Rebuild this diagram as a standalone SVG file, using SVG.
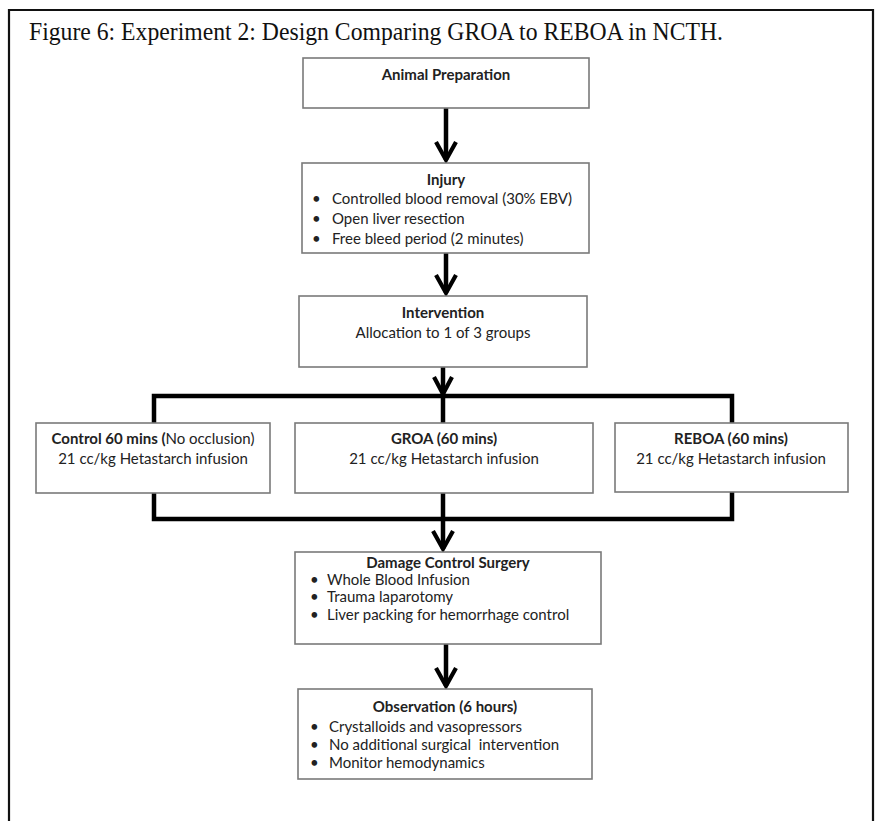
<svg xmlns="http://www.w3.org/2000/svg" width="878" height="821" viewBox="0 0 878 821">
<style>
.box{fill:#fff;stroke:#7a7a7a;stroke-width:1.6}
.t{font-family:Lato,"Open Sans","Liberation Sans",sans-serif;font-size:15px;fill:#222}
.b{font-weight:bold}
.c{text-anchor:middle}
.ln{fill:none;stroke:#000;stroke-width:4.5;stroke-linejoin:miter;stroke-linecap:butt}
.ah{fill:none;stroke:#000;stroke-width:4.2;stroke-linejoin:miter}
</style>
<rect x="0" y="0" width="878" height="821" fill="#fff"/>
<path d="M9 830 V10 H873 V830" fill="none" stroke="#111" stroke-width="2.2"/>
<text x="29" y="40" font-family="'Liberation Serif','Times New Roman',serif" font-size="25" fill="#111" textLength="694" lengthAdjust="spacingAndGlyphs">Figure 6: Experiment 2: Design Comparing GROA to REBOA in NCTH.</text>

<g id="connectors">
  <path class="ln" d="M446 108 V160"/>
  <path class="ah" d="M436 142 L446 160 L456 142"/>
  <path class="ln" d="M446 253 V293"/>
  <path class="ah" d="M436 275 L446 293 L456 275"/>
  <path class="ln" d="M443 367 V394"/>
  <path class="ah" d="M434 377 L443 394 L452 377"/>
  <path class="ln" d="M154 423 V396 H732 V423"/>
  <path class="ln" d="M443 396 V423"/>
  <path class="ln" d="M154 493 V519 H732 V492"/>
  <path class="ln" d="M443 493 V549"/>
  <path class="ah" d="M433 531 L443 549 L453 531"/>
  <path class="ln" d="M446 644 V686"/>
  <path class="ah" d="M436 668 L446 686 L456 668"/>
</g>

<g id="animal">
  <rect class="box" x="303" y="58" width="286" height="50"/>
  <text class="t b c" x="446" y="80">Animal Preparation</text>
</g>

<g id="injury">
  <rect class="box" x="302" y="163" width="287" height="90"/>
  <text class="t b c" x="446" y="185">Injury</text>
  <text class="t" x="312" y="204">•</text><text class="t" x="332" y="204">Controlled blood removal (30% EBV)</text>
  <text class="t" x="312" y="224">•</text><text class="t" x="332" y="224">Open liver resection</text>
  <text class="t" x="312" y="244">•</text><text class="t" x="332" y="244">Free bleed period (2 minutes)</text>
</g>

<g id="intervention">
  <rect class="box" x="299" y="296" width="288" height="71"/>
  <text class="t b c" x="443" y="318">Intervention</text>
  <text class="t c" x="443" y="338">Allocation to 1 of 3 groups</text>
</g>

<g id="control">
  <rect class="box" x="36" y="423" width="234" height="70"/>
  <text class="t c" x="153" y="444"><tspan class="b">Control 60 mins (</tspan>No occlusion)</text>
  <text class="t c" x="153" y="464">21 cc/kg Hetastarch infusion</text>
</g>

<g id="groa">
  <rect class="box" x="295" y="423" width="298" height="70"/>
  <text class="t b c" x="444" y="444">GROA (60 mins)</text>
  <text class="t c" x="444" y="464">21 cc/kg Hetastarch infusion</text>
</g>

<g id="reboa">
  <rect class="box" x="615" y="423" width="233" height="69"/>
  <text class="t b c" x="731" y="444">REBOA (60 mins)</text>
  <text class="t c" x="731" y="464">21 cc/kg Hetastarch infusion</text>
</g>

<g id="damage">
  <rect class="box" x="295" y="552" width="306" height="92"/>
  <text class="t b c" x="448" y="568">Damage Control Surgery</text>
  <text class="t" x="310" y="585">•</text><text class="t" x="327" y="585">Whole Blood Infusion</text>
  <text class="t" x="310" y="602">•</text><text class="t" x="327" y="602">Trauma laparotomy</text>
  <text class="t" x="310" y="620">•</text><text class="t" x="327" y="620">Liver packing for hemorrhage control</text>
</g>

<g id="observation">
  <rect class="box" x="298" y="689" width="294" height="90"/>
  <text class="t b c" x="445" y="712">Observation (6 hours)</text>
  <text class="t" x="310" y="732">•</text><text class="t" x="329" y="732">Crystalloids and vasopressors</text>
  <text class="t" x="310" y="750">•</text><text class="t" x="329" y="750" xml:space="preserve">No additional surgical  intervention</text>
  <text class="t" x="310" y="768">•</text><text class="t" x="329" y="768">Monitor hemodynamics</text>
</g>
</svg>
